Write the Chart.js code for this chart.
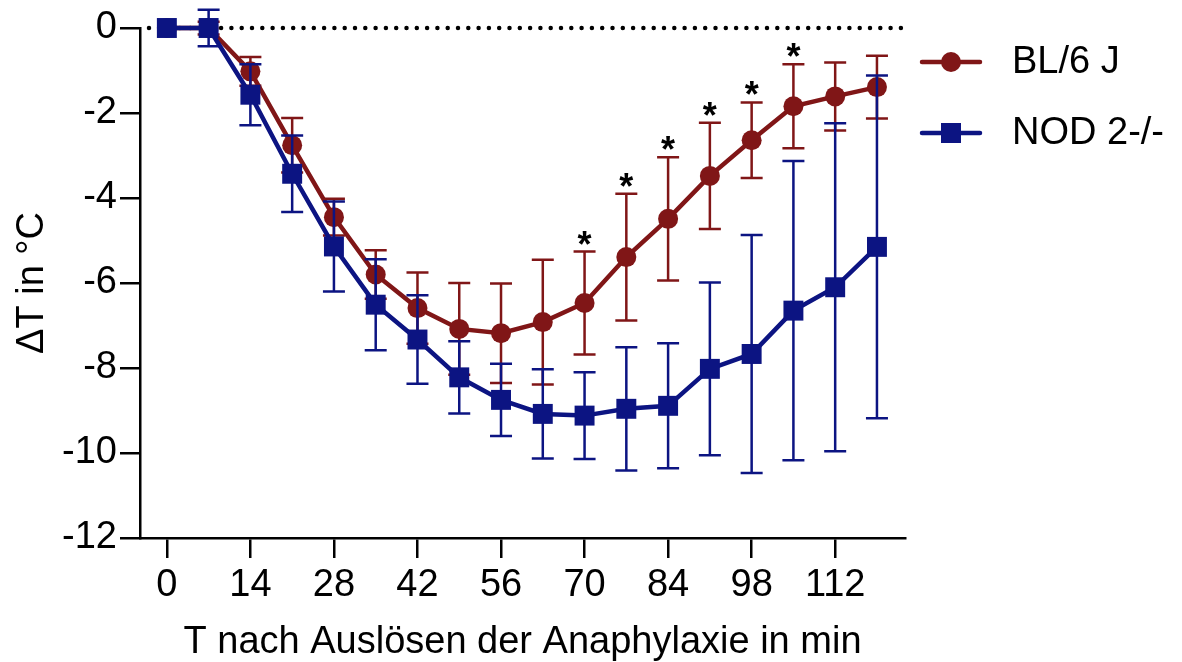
<!DOCTYPE html>
<html>
<head>
<meta charset="utf-8">
<script src="https://cdn.jsdelivr.net/npm/chart.js@4.4.1/dist/chart.umd.min.js"></script>
<style>
  html, body { margin: 0; padding: 0; background: #fff; }
</style>
</head>
<body>
<canvas id="temp-chart" width="1182" height="662"></canvas>
<script>
// time points in min after anaphylaxis was triggered
const times = [0, 7, 14, 21, 28, 35, 42, 49, 56, 63, 70, 77, 84, 91, 98, 105, 112, 119]

// BL/6 J: mean temperature change and SD
const bl6Mean = [0, 0, -1.02, -2.76, -4.45, -5.80, -6.59, -7.08, -7.18, -6.92, -6.47, -5.39, -4.49, -3.48, -2.64, -1.84, -1.61, -1.39]
const bl6Sd = [0, 0.15, 0.34, 0.64, 0.43, 0.57, 0.84, 1.08, 1.17, 1.47, 1.21, 1.49, 1.45, 1.25, 0.89, 0.99, 0.80, 0.74]

// NOD 2-/-: mean temperature change and SD
const nodMean = [0, 0, -1.57, -3.43, -5.14, -6.51, -7.33, -8.22, -8.75, -9.08, -9.12, -8.96, -8.89, -8.02, -7.67, -6.65, -6.10, -5.15]
const nodSd = [0, 0.43, 0.72, 0.90, 1.06, 1.07, 1.04, 0.85, 0.85, 1.05, 1.02, 1.45, 1.47, 2.03, 2.80, 3.52, 3.86, 4.03]

// time points with a significant difference (marked with *)
const sigTimes = [70, 77, 84, 91, 98, 105]

const xTicks = [0, 14, 28, 42, 56, 70, 84, 98, 112]
const yTicks = [0, -2, -4, -6, -8, -10, -12]

const red = '#801617'
const blue = '#0c1482'

Chart.defaults.font.family = "'Liberation Sans', Arial, sans-serif"
Chart.defaults.color = '#000'

function toPoints(means) {
  return times.map((t, i) => ({ x: t, y: means[i] }))
}

function drawErrorBars(chart, ds) {
  const ctx = chart.ctx
  const xs = chart.scales.x
  const ys = chart.scales.y
  ctx.save()
  ctx.strokeStyle = ds.borderColor
  ctx.lineWidth = 2.5
  ds.data.forEach((p, i) => {
    const sd = ds.sd[i]
    if (!sd) return
    const px = xs.getPixelForValue(p.x)
    const top = ys.getPixelForValue(p.y + sd)
    const bot = ys.getPixelForValue(p.y - sd)
    ctx.beginPath()
    ctx.moveTo(px, top)
    ctx.lineTo(px, bot)
    ctx.moveTo(px - 11, top)
    ctx.lineTo(px + 11, top)
    ctx.moveTo(px - 11, bot)
    ctx.lineTo(px + 11, bot)
    ctx.stroke()
  })
  ctx.restore()
}

const extras = {
  id: 'extras',
  beforeDatasetsDraw(chart) {
    const ctx = chart.ctx
    const y0 = chart.scales.y.getPixelForValue(0)
    // dotted baseline at 0
    ctx.save()
    ctx.strokeStyle = '#000'
    ctx.lineWidth = 4.5
    ctx.lineCap = 'round'
    ctx.setLineDash([0, 10.3])
    ctx.beginPath()
    ctx.moveTo(chart.chartArea.left + 9, y0)
    ctx.lineTo(chart.chartArea.right, y0)
    ctx.stroke()
    ctx.restore()
    drawErrorBars(chart, chart.data.datasets[0])
  },
  afterDatasetDraw(chart, args) {
    // blue bars go above the red series but below the blue line
    if (args.index === 0) drawErrorBars(chart, chart.data.datasets[1])
  },
  afterDatasetsDraw(chart) {
    const ctx = chart.ctx
    const xs = chart.scales.x
    const ys = chart.scales.y
    ctx.save()
    ctx.fillStyle = '#000'
    ctx.font = "bold 36px 'Liberation Sans', Arial, sans-serif"
    ctx.textAlign = 'center'
    ctx.textBaseline = 'alphabetic'
    sigTimes.forEach(t => {
      const i = times.indexOf(t)
      const px = xs.getPixelForValue(t)
      const top = ys.getPixelForValue(bl6Mean[i] + bl6Sd[i])
      ctx.fillText('*', px, top - 16 + 21)
    })

    // legend
    const rows = [
      { ds: chart.data.datasets[0], y: 62 },
      { ds: chart.data.datasets[1], y: 133 }
    ]
    ctx.font = "38px 'Liberation Sans', Arial, sans-serif"
    ctx.textAlign = 'left'
    ctx.textBaseline = 'middle'
    rows.forEach(r => {
      ctx.strokeStyle = r.ds.borderColor
      ctx.fillStyle = r.ds.borderColor
      ctx.lineWidth = 4.5
      ctx.lineCap = 'round'
      ctx.beginPath()
      ctx.moveTo(922, r.y)
      ctx.lineTo(980, r.y)
      ctx.stroke()
      if (r.ds.pointStyle === 'circle') {
        ctx.beginPath()
        ctx.arc(951, r.y, 10, 0, Math.PI * 2)
        ctx.fill()
      } else {
        ctx.fillRect(941, r.y - 10, 20, 20)
      }
      ctx.fillStyle = '#000'
      ctx.fillText(r.ds.label, 1012, r.y + 1)
    })
    ctx.restore()
  }
}

new Chart(document.getElementById('temp-chart'), {
  type: 'line',
  data: {
    datasets: [
      {
        label: 'BL/6 J',
        data: toPoints(bl6Mean),
        sd: bl6Sd,
        borderColor: red,
        backgroundColor: red,
        borderWidth: 4.5,
        pointStyle: 'circle',
        pointRadius: 10,
        pointBorderWidth: 0,
        clip: false,
        order: 2
      },
      {
        label: 'NOD 2-/-',
        data: toPoints(nodMean),
        sd: nodSd,
        borderColor: blue,
        backgroundColor: blue,
        borderWidth: 4.5,
        pointStyle: 'rect',
        pointRadius: 14.1,
        pointBorderWidth: 0,
        clip: false,
        order: 1
      }
    ]
  },
  options: {
    responsive: false,
    animation: false,
    devicePixelRatio: 1,
    layout: { padding: { top: 28, right: 277, bottom: 0, left: 0 } },
    plugins: {
      legend: { display: false },
      tooltip: { enabled: false }
    },
    scales: {
      x: {
        type: 'linear',
        min: -4.5,
        max: 123.7,
        afterBuildTicks: s => { s.ticks = xTicks.map(v => ({ value: v })) },
        afterFit: s => { s.height = 124 },
        grid: { drawOnChartArea: false, color: '#000', lineWidth: 2.5, tickLength: 20 },
        border: { display: true, color: '#000', width: 2.5 },
        ticks: { font: { size: 38 }, padding: 5, maxRotation: 0 },
        title: {
          display: true,
          text: 'T nach Auslösen der Anaphylaxie in min',
          font: { size: 38, lineHeight: 1 },
          padding: { top: 0, bottom: 0 }
        }
      },
      y: {
        min: -12,
        max: 0,
        afterBuildTicks: s => { s.ticks = yTicks.map(v => ({ value: v })) },
        afterFit: s => { s.width = 140 },
        grid: { drawOnChartArea: false, color: '#000', lineWidth: 2.5, tickLength: 20 },
        border: { display: true, color: '#000', width: 2.5 },
        ticks: { font: { size: 38 }, padding: 3 },
        title: {
          display: true,
          text: 'ΔT in °C',
          font: { size: 38, lineHeight: 1.2 },
          padding: { top: 10, bottom: 0 }
        }
      }
    }
  },
  plugins: [extras]
})
</script>
</body>
</html>
